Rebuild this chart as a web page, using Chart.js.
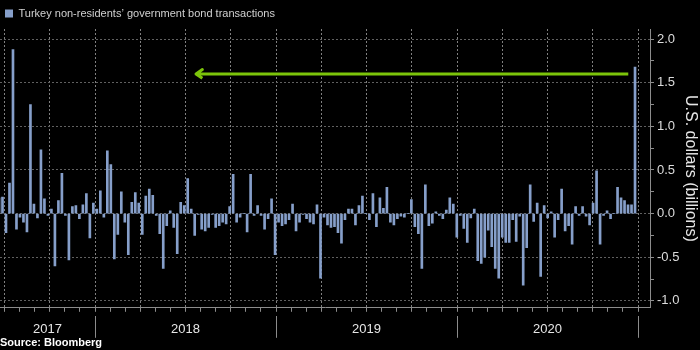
<!DOCTYPE html>
<html>
<head>
<meta charset="utf-8">
<title>Turkey non-residents’ government bond transactions</title>
<script src="https://cdn.jsdelivr.net/npm/chart.js@4"></script>
<style>
    html, body { margin: 0; padding: 0; background: #000; }
    #wrap { width: 700px; height: 350px; position: relative; }
</style>
</head>
<body>
<div id="wrap"><canvas id="bondChart"></canvas></div>
<script>
/* ================= DATA ================= */

// weekly net flows, billions of US$, from late June 2017
const flows = [
    0.18, 0.19, -0.22, 0.35, 1.88, -0.18, -0.04, -0.10, -0.21, 1.25,
    0.11, -0.05, 0.73, 0.17, -0.02, 0.05, -0.60, 0.15, 0.46, -0.02,
    -0.53, 0.08, 0.09, -0.06, 0.10, 0.23, -0.28, 0.12, 0.05, 0.26,
    -0.04, 0.72, 0.56, -0.52, -0.24, 0.25, -0.10, -0.47, 0.13, 0.24,
    0.12, -0.24, 0.20, 0.28, 0.21, -0.02, -0.23, -0.63, -0.14, 0.03,
    -0.16, -0.46, 0.13, 0.09, 0.40, 0.05, -0.25, -0.01, -0.18, -0.20,
    -0.16, -0.01, -0.16, -0.14, -0.10, -0.12, 0.08, 0.45, -0.10, -0.04,
    0.00, -0.21, 0.45, -0.02, 0.09, -0.02, -0.18, -0.06, 0.17, -0.47,
    -0.10, -0.14, -0.12, -0.07, 0.11, -0.20, -0.10, -0.01, -0.06, -0.10,
    -0.12, 0.10, -0.74, -0.04, -0.13, -0.16, -0.15, -0.22, -0.34, -0.07,
    0.05, 0.05, -0.13, 0.09, 0.20, 0.00, -0.07, 0.23, -0.15, 0.18,
    0.06, 0.30, -0.10, -0.13, -0.06, -0.03, -0.04, 0.00, 0.16, -0.15,
    -0.23, -0.63, 0.33, -0.14, -0.11, 0.02, -0.02, -0.06, 0.04, 0.18,
    0.11, -0.27, -0.02, -0.17, -0.33, -0.05, 0.05, -0.54, -0.57, -0.50,
    -0.19, -0.38, -0.63, -0.74, -0.27, -0.33, -0.33, -0.07, -0.32, -0.03,
    -0.82, -0.39, 0.33, -0.09, 0.12, -0.72, 0.09, -0.05, 0.02, -0.27,
    -0.07, 0.28, -0.20, -0.14, -0.35, 0.08, -0.02, 0.08, -0.03, -0.13,
    0.12, 0.49, -0.35, -0.02, 0.03, -0.06, 0.00, 0.30, 0.18, 0.15,
    0.10, 0.10, 1.68
];

const firstWeek = "2017-06-23";
const padWeeks = 4;                       // empty weeks after the last bar

const yearLabels = ["2017", "2018", "2019", "2020"];
const yearBreaks = [2018, 2019, 2020, 2021];
const timeStart = 2017.475;               // time axis, decimal years
const timeEnd = 2021.066;

const yTicks = [-1.0, -0.75, -0.5, -0.25, 0, 0.25, 0.5, 0.75, 1.0, 1.25, 1.5, 1.75, 2.0];
const yMajor = [-1.0, -0.5, 0, 0.5, 1.0, 1.5, 2.0];

const arrowFrom = 2020.946;
const arrowTo = 2018.558;
const arrowLevel = 1.6;

/* ================= COLOURS / FONTS ================= */

const BAR = "#869fca";
const GREEN = "#7cc40a";
const GRID = "#606060";
const VGRID = "#808080";
const AXIS = "#8c8c8c";
const TEXT = "#dcdcdc";
const CLEAR = "rgba(0,0,0,0)";
const FONT = "'Liberation Sans', Arial, sans-serif";

/* ================= DERIVED ================= */

const weekLabels = [];
const start = new Date(firstWeek + "T00:00:00Z").getTime();
for (let i = 0; i < flows.length + padWeeks; i++) {
    weekLabels.push(new Date(start + i * 7 * 864e5).toISOString().slice(0, 10));
}

const monthTicks = [];
for (let m = 0; 2017.5 + m / 12 <= timeEnd; m++) monthTicks.push(2017.5 + m / 12);

const yearMids = yearLabels.map(y => {
    const a = Math.max(+y, timeStart);
    const b = Math.min(+y + 1, timeEnd);
    return (a + b) / 2;
});

const isQuarter = v => Math.abs(v * 4 - Math.round(v * 4)) < 1e-6;
const isHalf = v => Math.abs(v * 2 - Math.round(v * 2)) < 1e-6;

// arrow: shaft then a small open chevron at the head
const armBack = 0.035, armHalf = 0.05;
const arrowPts = [
    { x: arrowFrom, y: arrowLevel },
    { x: arrowTo, y: arrowLevel },
    { x: arrowTo + armBack, y: arrowLevel + armHalf },
    { x: arrowTo, y: arrowLevel },
    { x: arrowTo + armBack, y: arrowLevel - armHalf }
];

/* ================= CHART ================= */

Chart.defaults.font.family = FONT;
Chart.defaults.color = TEXT;

new Chart(document.getElementById("bondChart"), {
    type: "bar",
    data: {
        labels: weekLabels,
        datasets: [{
            label: "Turkey non-residents’ government bond transactions",
            data: flows,
            backgroundColor: BAR,
            barThickness: 2,
            xAxisID: "x",
            yAxisID: "y"
        }, {
            type: "line",
            label: "arrow",
            data: arrowPts,
            xAxisID: "xt",
            yAxisID: "y",
            borderColor: GREEN,
            borderWidth: 3,
            borderJoinStyle: "round",
            borderCapStyle: "butt",
            pointRadius: 0,
            tension: 0,
            fill: false
        }]
    },
    options: {
        responsive: true,
        maintainAspectRatio: false,
        animation: false,
        layout: { padding: { top: 3, left: 0, right: 0, bottom: 0 } },
        plugins: {
            tooltip: { enabled: false },
            legend: {
                position: "top",
                align: "start",
                labels: {
                    boxWidth: 8,
                    boxHeight: 8,
                    padding: 5,
                    color: "#d0d0d0",
                    font: { size: 11 },
                    filter: item => item.datasetIndex === 0
                }
            },
            title: {
                display: true,
                text: "Source: Bloomberg",
                position: "bottom",
                align: "start",
                color: "#ffffff",
                font: { size: 11, weight: "bold" },
                padding: { top: 0, bottom: 0 }
            }
        },
        scales: {
            x: {
                type: "category",
                display: false,
                offset: false,
                grid: { offset: false }
            },
            xt: {
                type: "linear",
                position: "bottom",
                min: timeStart,
                max: timeEnd,
                offset: false,
                afterBuildTicks: s => { s.ticks = monthTicks.map(v => ({ value: v })); },
                afterFit: s => { s.height = 8; },
                ticks: { display: false },
                grid: {
                    offset: false,
                    lineWidth: 1,
                    color: c => (c.tick && isQuarter(c.tick.value)) ? VGRID : CLEAR,
                    tickColor: AXIS,
                    tickLength: 4,
                    tickBorderDash: []
                },
                border: { color: AXIS, width: 1, dash: [2, 2] }
            },
            xy: {
                type: "linear",
                position: "bottom",
                min: timeStart,
                max: timeEnd,
                offset: false,
                afterBuildTicks: s => {
                    s.ticks = yearBreaks.concat(yearMids).sort((a, b) => a - b).map(v => ({ value: v }));
                },
                afterFit: s => { s.height = 21; },
                ticks: {
                    autoSkip: false,
                    maxRotation: 0,
                    padding: -16,
                    color: "#e6e6e6",
                    font: { size: 13 },
                    callback: v => {
                        const i = yearMids.findIndex(m => Math.abs(m - v) < 1e-6);
                        return i >= 0 ? yearLabels[i] : "";
                    }
                },
                grid: {
                    offset: false,
                    drawOnChartArea: false,
                    tickLength: 22,
                    tickColor: c => (c.tick && yearBreaks.includes(c.tick.value)) ? AXIS : CLEAR
                },
                border: { display: false }
            },
            y: {
                type: "linear",
                position: "right",
                min: -1.08,
                max: 2.115,
                afterBuildTicks: s => { s.ticks = yTicks.map(v => ({ value: v })); },
                afterFit: s => { s.width = 50; },
                ticks: {
                    padding: 3,
                    color: TEXT,
                    font: { size: 13 },
                    callback: v => isHalf(v) ? v.toFixed(1) : ""
                },
                grid: {
                    lineWidth: 1,
                    color: c => (c.tick && yMajor.includes(c.tick.value)) ? GRID : CLEAR,
                    tickColor: AXIS,
                    tickLength: 4,
                    tickBorderDash: []
                },
                border: { color: AXIS, width: 1, dash: [2, 2] },
                title: {
                    display: true,
                    text: "U.S. dollars (billions)",
                    color: "#e6e6e6",
                    font: { size: 16 },
                    padding: { top: 0, bottom: 1 }
                }
            }
        }
    }
});
</script>
</body>
</html>
